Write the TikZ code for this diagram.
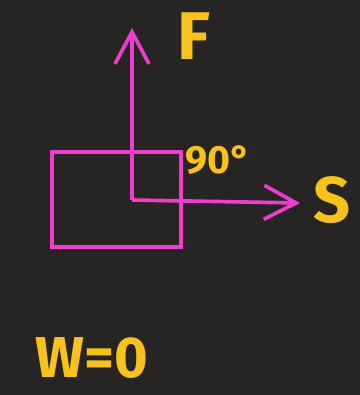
\documentclass[tikz,border=0pt]{standalone}
\usepackage{fontspec}
\setmainfont{Fira Sans}
\usepackage{xcolor}
\usepackage{tikz}
\usetikzlibrary{positioning, arrows.meta, calc}
\definecolor{boardbg}{HTML}{262523}
\definecolor{forcepink}{HTML}{F23CD0}
\definecolor{chalkyellow}{HTML}{F7C21C}

\begin{document}
\begin{tikzpicture}[x=0.025cm, y=-0.025cm,
    force/.style={draw=forcepink, line width=2.6pt,
      -{Straight Barb[length=0.8cm, width=0.85cm, line width=2.6pt]}},
    tag/.style={text=chalkyellow, inner sep=0pt}]
    \fill[boardbg] (0,0) rectangle (360,395);
    \useasboundingbox (0,0) rectangle (360,395);
    % the block and where both forces start
    \node[draw=forcepink, line width=2.6pt, inner sep=0pt,
          minimum width=3.225cm, minimum height=2.375cm] (block) at (116.5,199.5) {};
    \coordinate (origin) at (132,200);
    \coordinate (ftip) at (132,28);
    \coordinate (stip) at (300,203);
    \draw[force] (origin) -- (ftip);
    \draw[force] (origin) -- (stip);
    % labels
    \node[tag, font=\bfseries\fontsize{48}{50}\selectfont] (flabel) at (194,36) {F};
    \node[tag, font=\bfseries\fontsize{28}{30}\selectfont] (angle) at (218,160) {90°};
    \node[tag, font=\bfseries\fontsize{46}{48}\selectfont] (slabel) at (332,200) {S};
    \node[tag, font=\bfseries\fontsize{41}{43}\selectfont] (work) at (92,358) {W=0};
  \end{tikzpicture}
\end{document}
